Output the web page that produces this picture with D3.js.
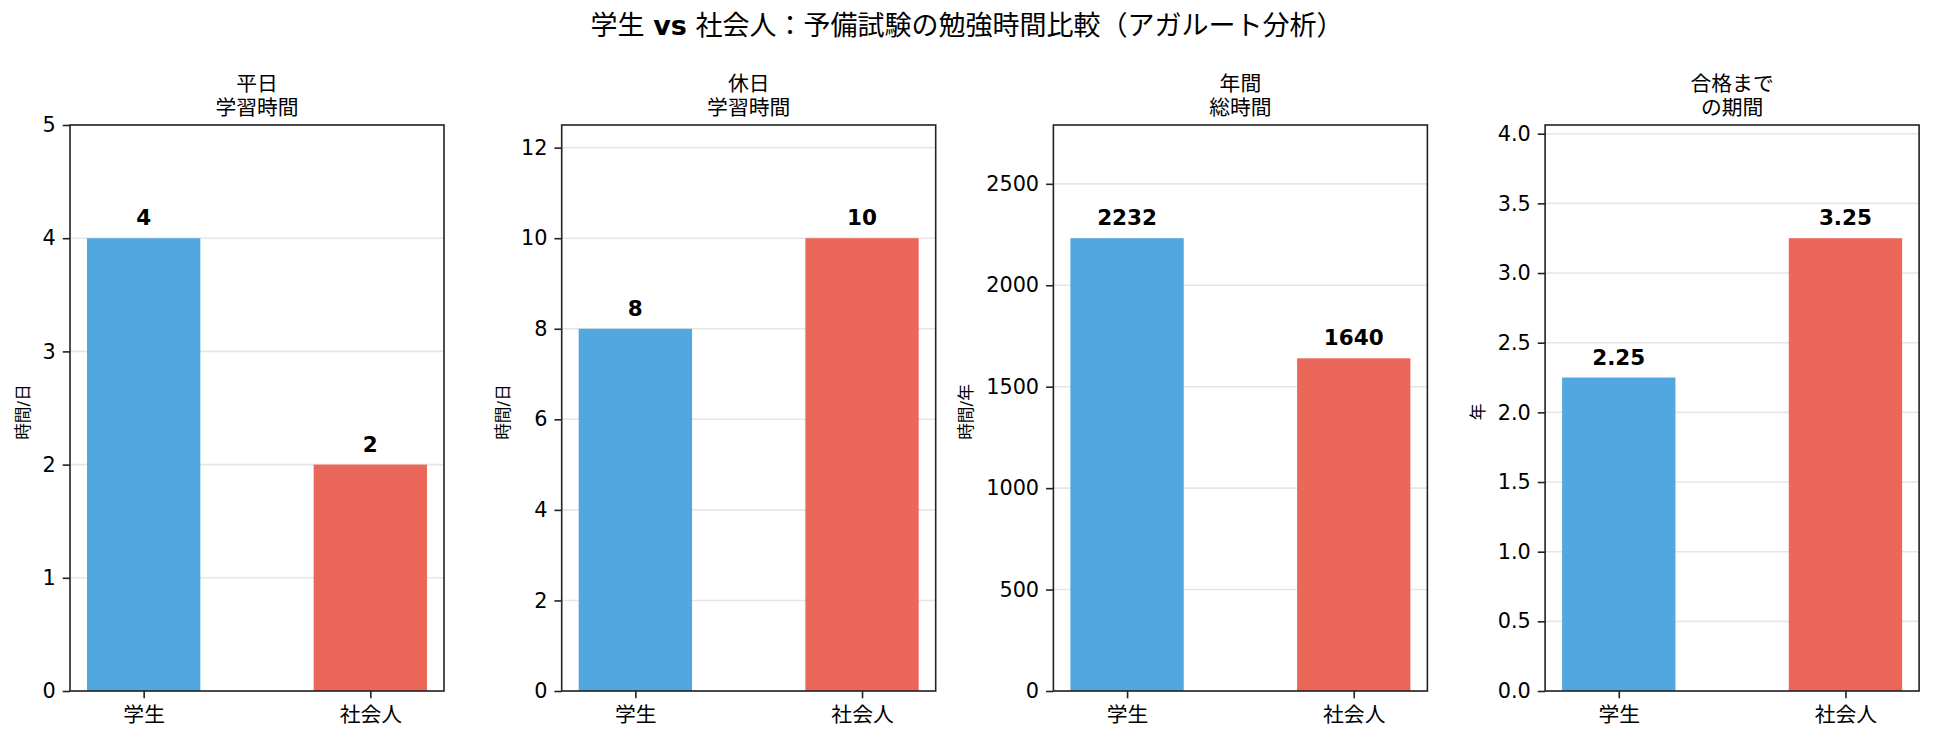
<!DOCTYPE html>
<html>
<head>
<meta charset="utf-8">
<script src="https://cdn.jsdelivr.net/npm/d3@7"></script>
<style>
  body { margin: 0; background: #fff; }
  text { font-family: "DejaVu Sans", "Noto Sans CJK JP", sans-serif; fill: #000; }
</style>
</head>
<body>
<svg id="fig" width="1934" height="741"></svg>
<script>
// données
const categories = ["学生", "社会人"];
const titres = [["平日", "学習時間"], ["休日", "学習時間"], ["年間", "総時間"], ["合格まで", "の期間"]];
const unites = ["時間/日", "時間/日", "時間/年", "年"];
const valeursEtudiant = [4, 8, 2232, 2.25];
const valeursSalarie = [2, 10, 1640, 3.25];
const nbTicks = [5, 6, 5, 8];
const formatTicks = ["d", "d", "d", ".1f"];
const formatValeurs = ["d", "d", "d", ".2f"];
const couleurs = ["#52a7e0", "#eb6759"];

const svg = d3.select("#fig");

// titre général
const titre = svg.append("text")
  .attr("x", 967).attr("y", 35)
  .attr("text-anchor", "middle")
  .style("font-size", "27px");
titre.append("tspan").text("学生 ");
titre.append("tspan").style("font-weight", "bold").text("vs");
titre.append("tspan").text(" 社会人：予備試験の勉強時間比較（アガルート分析）");

const largeur = 374, hauteur = 566, haut = 125;

titres.forEach((t, i) => {
  const gauche = 70 + i * 491.7;
  const vals = [valeursEtudiant[i], valeursSalarie[i]];
  const max = d3.max(vals) * 1.25;

  const x = d3.scaleLinear().domain([-0.325, 1.325]).range([0, largeur]);
  const y = d3.scaleLinear().domain([0, max]).range([hauteur, 0]);

  const g = svg.append("g").attr("transform", `translate(${gauche},${haut})`);

  // grille horizontale
  g.append("g")
    .selectAll("line")
    .data(y.ticks(nbTicks[i]))
    .join("line")
    .attr("x1", 0).attr("x2", largeur)
    .attr("y1", d => y(d)).attr("y2", d => y(d))
    .attr("stroke", "#e6e6e6")
    .attr("stroke-width", 1.6);

  // barres
  g.selectAll(".barre")
    .data(vals)
    .join("rect")
    .attr("class", "barre")
    .attr("x", (d, j) => x(j - 0.25))
    .attr("width", x(0.25) - x(-0.25))
    .attr("y", d => y(d))
    .attr("height", d => hauteur - y(d))
    .attr("fill", (d, j) => couleurs[j]);

  // valeurs au dessus des barres
  g.selectAll(".valeur")
    .data(vals)
    .join("text")
    .attr("class", "valeur")
    .attr("x", (d, j) => x(j))
    .attr("y", d => y(d) - 13)
    .attr("text-anchor", "middle")
    .style("font-size", "21.5px")
    .style("font-weight", "bold")
    .text(d => d3.format(formatValeurs[i])(d));

  // axe y
  const axeY = g.append("g")
    .call(d3.axisLeft(y).ticks(nbTicks[i]).tickFormat(d3.format(formatTicks[i])).tickSizeOuter(0).tickSize(7.3).tickPadding(7));
  axeY.select(".domain").remove();
  axeY.selectAll("line").attr("stroke", "#222").attr("stroke-width", 1.6);
  axeY.selectAll("text").style("font-size", "20.8px").attr("fill", "#000");

  // axe x
  const axeX = g.append("g")
    .attr("transform", `translate(0,${hauteur})`)
    .call(d3.axisBottom(x).tickValues([0, 1]).tickFormat(d => categories[d]).tickSizeOuter(0).tickSize(7.3).tickPadding(9));
  axeX.select(".domain").remove();
  axeX.selectAll("line").attr("stroke", "#222").attr("stroke-width", 1.6);
  axeX.selectAll("text").style("font-size", "20.8px").attr("fill", "#000");

  // cadre
  g.append("rect")
    .attr("width", largeur).attr("height", hauteur)
    .attr("fill", "none")
    .attr("stroke", "#222")
    .attr("stroke-width", 1.6);

  // titre du sous-graphique
  g.append("text")
    .attr("x", largeur / 2).attr("y", -10)
    .attr("text-anchor", "middle")
    .style("font-size", "20.8px")
    .selectAll("tspan")
    .data(t)
    .join("tspan")
    .attr("x", largeur / 2)
    .attr("dy", (d, j) => j === 0 ? "-1.15em" : "1.15em")
    .text(d => d);

  // label de l'axe y (centré sur sa position)
  const xLabel = [-47, -59, -87, -67][i];
  g.append("text")
    .attr("transform", `translate(${xLabel},${hauteur / 2 + 4}) rotate(-90)`)
    .attr("text-anchor", "middle")
    .attr("dominant-baseline", "central")
    .style("font-size", "16.7px")
    .text(unites[i]);
});
</script>
</body>
</html>
